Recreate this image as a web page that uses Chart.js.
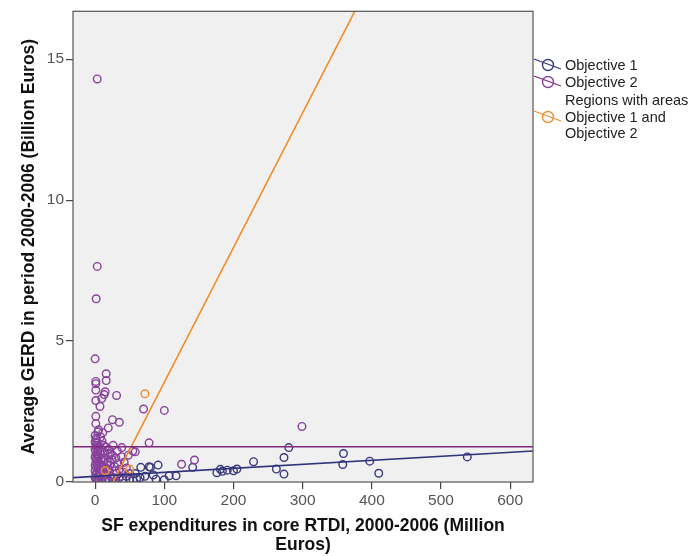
<!DOCTYPE html>
<html>
<head>
<meta charset="utf-8">
<script src="https://cdn.jsdelivr.net/npm/chart.js@4"></script>
<style>
  html, body { margin: 0; padding: 0; background: #fff; }
  #wrap { width: 697px; height: 556px; }
</style>
</head>
<body>
<div id="wrap"><canvas id="chart1"></canvas></div>
<script>
// eixos
const xTicks = [0, 100, 200, 300, 400, 500, 600];
const yTicks = [0, 5, 10, 15];
const xMin = -32, xMax = 633;
const yMin = 0, yMax = 16.7;

// Objective 1
const obj1X = [262, 273, 280, 273, 359, 358, 397, 410, 538, 91, 80, 84, 107, 117, 141, 176, 181, 191, 205, 229,
  66, 78, 58, 65, 72, 50, 45, 40, 35, 30, 25, 20, 15, 10, 5, 2, 55, 88, 100, 60, 184, 200];
const obj1Y = [0.46, 0.87, 1.22, 0.28, 1.01, 0.62, 0.74, 0.31, 0.89, 0.6, 0.52, 0.25, 0.22, 0.22, 0.52, 0.33, 0.45, 0.42, 0.46, 0.72,
  0.52, 0.54, 0.3, 0.15, 0.2, 0.1, 0.2, 0.08, 0.15, 0.05, 0.12, 0.05, 0.1, 0.03, 0.05, 0.02, 0.05, 0.1, 0.08, 0.12, 0.38, 0.4];

// Objective 2
const obj2X = [3, 3, 1.5, 0, 16, 16, 1, 1, 1, 14.5, 13, 31, 9.6, 1, 7, 1, 1, 25, 35, 19, 4, 70, 100, 78, 38.5, 54.5, 58, 299, 125, 143.6,
  0, 1, 2, 0, 3, 1, 5, 2, 0, 4, 7, 1, 3, 6, 0, 2, 9, 4, 1, 12, 6, 3, 0, 8, 15, 2, 5, 11, 0, 18, 3, 7, 1, 13, 4, 22, 0, 9, 2, 6, 16, 27,
  10, 8, 12, 20, 25, 30, 18, 28, 35, 40, 22, 15, 33, 45, 50, 38, 11, 5, 14, 26, 31, 42, 48, 20,
  6, 9, 13, 17, 21, 24, 29, 32, 36, 8, 4, 19];
const obj2Y = [14.3, 7.65, 6.5, 4.37, 3.84, 3.6, 3.57, 3.49, 3.26, 3.2, 3.1, 3.07, 2.96, 2.89, 2.68, 2.33, 2.07, 2.21, 2.12, 1.92, 1.78, 2.59, 2.54, 1.39, 1.22, 1.1, 1.07, 1.97, 0.63, 0.78,
  1.65, 1.55, 1.5, 1.42, 1.38, 1.3, 1.25, 1.2, 1.15, 1.1, 1.05, 1.0, 0.95, 0.9, 0.88, 0.82, 0.8, 0.75, 0.7, 0.72, 0.65, 0.6, 0.58, 0.55, 0.52, 0.5, 0.45, 0.42, 0.4, 0.38, 0.35, 0.3, 0.28, 0.25, 0.2, 0.22, 0.15, 0.12, 0.1, 0.06, 0.08, 0.15,
  1.45, 1.6, 1.3, 1.15, 0.95, 0.85, 0.7, 0.55, 0.45, 0.35, 1.0, 1.25, 0.65, 0.5, 0.3, 0.9, 1.75, 1.85, 1.05, 1.3, 0.3, 0.7, 0.95, 0.45,
  0.35, 0.6, 0.85, 0.25, 0.6, 0.8, 0.4, 1.1, 0.2, 1.2, 0.9, 1.0];

// Regions with areas Objective 1 and Objective 2
const obj12X = [72, 14.5, 50];
const obj12Y = [3.13, 0.4, 0.45];

// retas de ajuste: [Objective 1, Objective 2, ambos]
const fitSlope = [0.00142, 0, 0.0478];
const fitIntercept = [0.2, 1.25, -1.24];

const colObj1 = 'rgb(58, 58, 125)';
const colObj2 = 'rgb(135, 65, 155)';
const colObj12 = 'rgb(242, 142, 48)';
const lineCols = ['rgb(48, 52, 122)', 'rgb(128, 40, 128)', 'rgb(242, 140, 42)'];

const toPoints = (xs, ys) => xs.map((x, i) => ({ x: x, y: ys[i] }));
const fitLine = (k) => [xMin, xMax].map(x => ({ x: x, y: fitIntercept[k] + fitSlope[k] * x }));

const FONT = '"Liberation Sans", Arial, sans-serif';

// fundo cinza e moldura da area do grafico
const frame = {
  id: 'frame',
  beforeDatasetsDraw(chart) {
    const { ctx, chartArea: a } = chart;
    ctx.save();
    ctx.fillStyle = '#f0f0f0';
    ctx.fillRect(a.left, a.top, a.right - a.left, a.bottom - a.top);
    ctx.restore();
  },
  afterDatasetsDraw(chart) {
    const { ctx, chartArea: a } = chart;
    ctx.save();
    ctx.strokeStyle = '#555';
    ctx.lineWidth = 1.2;
    ctx.strokeRect(a.left, a.top, a.right - a.left, a.bottom - a.top);
    ctx.restore();
  }
};

// legenda do lado direito
const legenda = {
  id: 'legenda',
  afterDraw(chart) {
    const ctx = chart.ctx;
    const items = [
      { color: colObj1, line: lineCols[0], cy: 65, text: ['Objective 1'], ty: 66 },
      { color: colObj2, line: lineCols[1], cy: 82, text: ['Objective 2'], ty: 83 },
      { color: colObj12, line: lineCols[2], cy: 117, text: ['Regions with areas', 'Objective 1 and', 'Objective 2'], ty: 101 }
    ];
    ctx.save();
    ctx.font = '14.5px ' + FONT;
    ctx.textBaseline = 'middle';
    items.forEach(it => {
      ctx.strokeStyle = it.line;
      ctx.lineWidth = 1.2;
      ctx.beginPath();
      ctx.moveTo(534, it.cy - 6);
      ctx.lineTo(561, it.cy + 4);
      ctx.stroke();
      ctx.strokeStyle = it.color;
      ctx.lineWidth = 1.4;
      ctx.beginPath();
      ctx.arc(548, it.cy, 5.5, 0, Math.PI * 2);
      ctx.stroke();
      ctx.fillStyle = '#222';
      it.text.forEach((t, i) => ctx.fillText(t, 565, it.ty + i * 16.5));
    });
    ctx.restore();
  }
};

new Chart(
  document.getElementById('chart1'),
  {
    type: 'scatter',
    data: {
      datasets: [
        {
          label: 'Objective 1 fit',
          data: fitLine(0),
          showLine: true,
          pointRadius: 0,
          borderColor: lineCols[0],
          borderWidth: 1.6
        },
        {
          label: 'Objective 2 fit',
          data: fitLine(1),
          showLine: true,
          pointRadius: 0,
          borderColor: lineCols[1],
          borderWidth: 1.3
        },
        {
          label: 'Objective 1 and 2 fit',
          data: fitLine(2),
          showLine: true,
          pointRadius: 0,
          borderColor: lineCols[2],
          borderWidth: 1.6
        },
        {
          label: 'Regions with areas Objective 1 and Objective 2',
          data: toPoints(obj12X, obj12Y),
          pointRadius: 3.8,
          pointBorderWidth: 1.4,
          borderColor: colObj12,
          backgroundColor: 'rgba(0,0,0,0)'
        },
        {
          label: 'Objective 2',
          data: toPoints(obj2X, obj2Y),
          pointRadius: 3.8,
          pointBorderWidth: 1.4,
          borderColor: colObj2,
          backgroundColor: 'rgba(0,0,0,0)'
        },
        {
          label: 'Objective 1',
          data: toPoints(obj1X, obj1Y),
          pointRadius: 3.8,
          pointBorderWidth: 1.4,
          borderColor: colObj1,
          backgroundColor: 'rgba(0,0,0,0)'
        }
      ]
    },
    options: {
      responsive: true,
      maintainAspectRatio: false,
      animation: false,
      layout: { padding: { left: 0, right: 164, top: 9, bottom: 0 } },
      plugins: {
        legend: { display: false },
        tooltip: { enabled: false }
      },
      scales: {
        x: {
          type: 'linear',
          min: xMin,
          max: xMax,
          afterBuildTicks: s => { s.ticks = xTicks.map(v => ({ value: v })); },
          afterFit: s => { s.height = 74; },
          border: { display: false },
          grid: { drawOnChartArea: false, drawTicks: true, tickLength: 7, color: '#444', lineWidth: 1.2 },
          ticks: { color: '#555', padding: 2, maxRotation: 0, font: { family: FONT, size: 15.5 } },
          title: {
            display: true,
            text: ['SF expenditures in core RTDI, 2000-2006 (Million', 'Euros)'],
            color: '#111',
            padding: { top: 0, bottom: 1 },
            font: { family: FONT, size: 17.5, weight: 'bold', lineHeight: 1.1 }
          }
        },
        y: {
          type: 'linear',
          min: yMin,
          max: yMax,
          afterBuildTicks: s => { s.ticks = yTicks.map(v => ({ value: v })); },
          afterFit: s => { s.width = 73; },
          border: { display: false },
          grid: { drawOnChartArea: false, drawTicks: true, tickLength: 7, color: '#444', lineWidth: 1.2 },
          ticks: { color: '#555', padding: 2, font: { family: FONT, size: 15.5 } },
          title: {
            display: true,
            text: 'Average GERD in period 2000-2006 (Billion Euros)',
            color: '#111',
            padding: { top: 20, bottom: 0 },
            font: { family: FONT, size: 17.5, weight: 'bold', lineHeight: 1.1 }
          }
        }
      }
    },
    plugins: [frame, legenda]
  }
);
</script>
</body>
</html>
